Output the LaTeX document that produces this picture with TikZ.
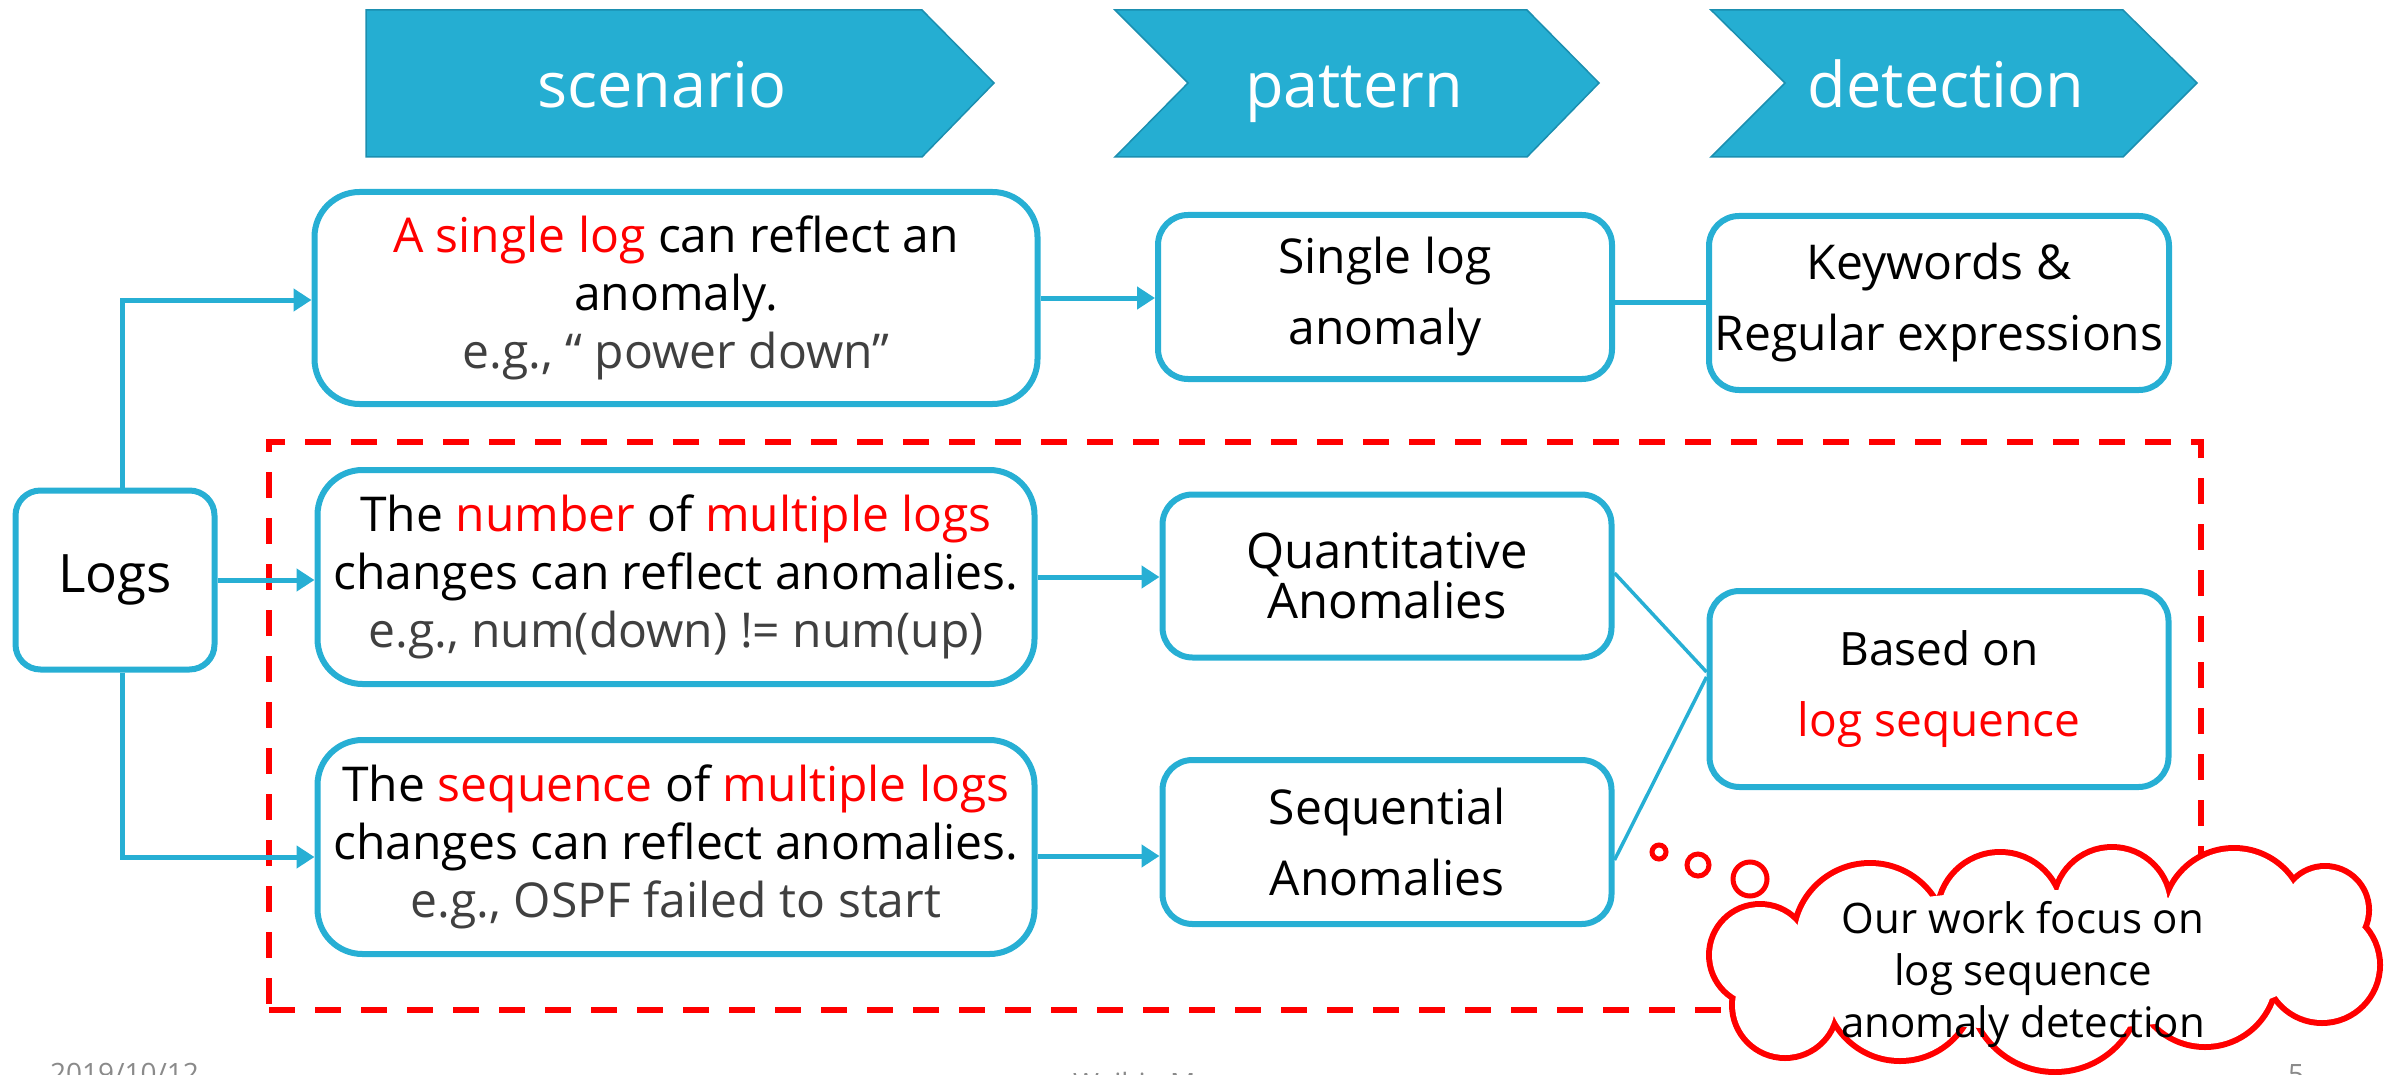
\documentclass[tikz,border=0pt]{standalone}
\usepackage{fontspec}
\setmainfont{Open Sans}
\usetikzlibrary{arrows.meta,calc}
\definecolor{cblue}{HTML}{27AFD4}
\definecolor{chev}{HTML}{25AED2}
\definecolor{chevline}{HTML}{1B8FB0}
\definecolor{egray}{HTML}{404040}
\definecolor{foot}{HTML}{8A8A8A}
\begin{document}
\begin{tikzpicture}[x=1pt,y=-1pt,
  box/.style={draw=cblue, line width=6pt, rounded corners=#1, align=center, inner sep=0pt, fill=white},
  box/.default=30pt,
  txtA/.style={font=\fontsize{48}{58}\selectfont},
  txtB/.style={font=\fontsize{48}{71}\selectfont},
  arr/.style={draw=cblue, line width=5pt, -{Triangle[length=18pt,width=22pt]}},
  link/.style={draw=cblue, line width=5pt},
  slant/.style={draw=cblue, line width=3.5pt},
  chevron/.style={fill=chev, draw=chevline, line width=1.5pt},
  title/.style={text=white, font=\fontsize{63}{70}\selectfont, anchor=base, inner sep=0pt},
  redgap/.style={draw=red, line width=6pt, dash pattern=on 26pt off 20pt},
  bubble/.style={draw=red, line width=5pt, fill=white},
  foottxt/.style={text=foot, font=\fontsize{28}{30}\selectfont, anchor=base west, inner sep=0pt}]
\useasboundingbox (0,0) rectangle (2389,1075);

% chevrons
\draw[chevron] (366,10) -- (922,10) -- (994,83) -- (922,157) -- (366,157) -- cycle;
\draw[chevron] (1115,10) -- (1527,10) -- (1599,83) -- (1527,157) -- (1115,157) -- (1188,83) -- cycle;
\draw[chevron] (1711,10) -- (2123,10) -- (2197,83) -- (2123,157) -- (1711,157) -- (1785,83) -- cycle;
\node[title] (t1) at (662,108) {scenario};
\node[title] (t2) at (1354,108) {pattern};
\node[title] (t3) at (1946,108) {detection};

% dashed focus region
\node[redgap, minimum width=1932pt, minimum height=568pt, inner sep=0pt] (focus) at (1235,726) {};

% boxes
\node[box=25pt, minimum width=199pt, minimum height=179pt, font=\fontsize{53}{60}\selectfont] (logs) at (115,580) {Logs};
\node[box=45pt, txtA, minimum width=723pt, minimum height=212pt] (A) at (676,298)
  {\textcolor{red}{A single log} can reflect an\\ anomaly.\\ \textcolor{egray}{e.g., “ power down”}};
\node[box, txtB, minimum width=454pt, minimum height=164pt] (B) at (1385,297) {Single log\\ anomaly};
\node[box, txtB, minimum width=460pt, minimum height=174pt] (C) at (1939,303) {Keywords \&\\ Regular expressions};
\node[box=45pt, txtA, minimum width=717pt, minimum height=214pt] (D) at (676,577)
  {The \textcolor{red}{number} of \textcolor{red}{multiple logs}\\ changes can reflect anomalies.\\ \textcolor{egray}{e.g., num(down) != num(up)}};
\node[box=45pt, txtA, minimum width=717pt, minimum height=214pt] (E) at (676,847)
  {The \textcolor{red}{sequence} of \textcolor{red}{multiple logs}\\ changes can reflect anomalies.\\ \textcolor{egray}{e.g., OSPF failed to start}};
\node[box, font=\fontsize{49}{50}\selectfont, minimum width=449pt, minimum height=163pt] (F) at (1387,576) {Quantitative\\ Anomalies};
\node[box, txtB, minimum width=449pt, minimum height=164pt] (G) at (1387,842) {Sequential\\ Anomalies};
\node[box, font=\fontsize{46}{71}\selectfont, minimum width=459pt, minimum height=196pt] (H) at (1939,689) {Based on\\ \textcolor{red}{log sequence}};

% connectors
\draw[arr] ([xshift=7pt]logs.north) |- ([yshift=-2pt]A.west);
\draw[arr] (logs.east) -- (logs.east -| D.west);
\draw[arr] ([xshift=7pt]logs.south) |- ([yshift=-10pt]E.west);
\draw[arr] (A.east) -- (A.east -| B.west);
\draw[link] ([yshift=-5pt]B.east) -- ([yshift=-5pt]B.east -| C.west);
\draw[arr] (D.east) -- (D.east -| F.west);
\draw[arr] ([yshift=-9pt]E.east) -- ([yshift=-9pt]E.east -| G.west);
\draw[slant] ([yshift=3pt]F.east) -- ([yshift=17pt]H.west);
\draw[slant] ([yshift=-18pt]G.east) -- ([yshift=12pt]H.west);

% thought bubbles
\draw[bubble] (1659,852) circle[radius=7];
\draw[bubble] (1698,865) circle[radius=11];
\draw[bubble] (1750,879) circle[radius=17];

% cloud
\def\puffs{1760/955/48, 1785/1005/50, 1900/985/73, 2055/985/84, 2205/975/69, 2322/965/55, 2325/910/41, 2234/920/69, 2112/906/56, 2000/915/60, 1870/940/74}
\foreach \cx/\cy/\r in \puffs {\draw[red, line width=12pt] (\cx,\cy) circle[radius=\r];}
\foreach \cx/\cy/\r in \puffs {\fill[white] (\cx,\cy) circle[radius=\r];}
\fill[white] (2045,960) ellipse[x radius=270, y radius=70];
\node[align=center, font=\fontsize{42}{52}\selectfont, inner sep=0pt] (cloudtxt) at (2023,974)
  {Our work focus on\\ log sequence\\ anomaly detection};

% footer (cut by the page edge, as in the slide)
\node[foottxt] (date) at (50,1083) {2019/10/12};
\node[foottxt] (author) at (1073,1093) {Weibin Meng};
\node[foottxt] (page) at (2288,1084) {5};
\end{tikzpicture}
\end{document}
